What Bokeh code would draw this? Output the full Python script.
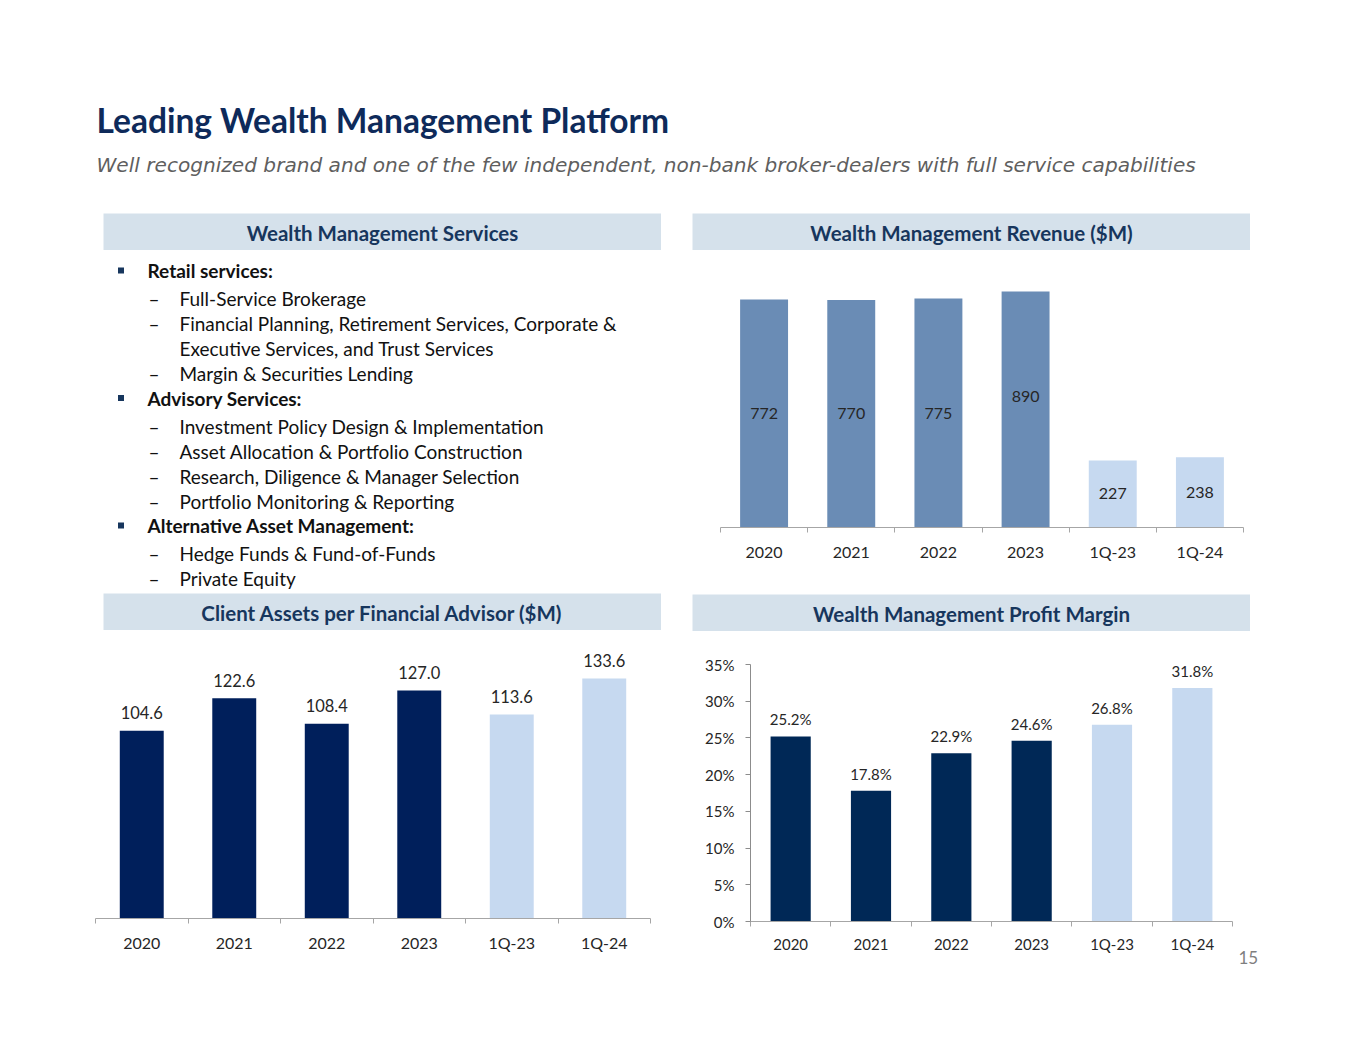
from bokeh.plotting import figure
from bokeh.layouts import row, column
from bokeh.models import Range1d, FixedTicker, NumeralTickFormatter, Spacer, ColumnDataSource
from bokeh.core.properties import value
from bokeh.embed import file_html
from bokeh.resources import INLINE

# ---------------- data ----------------
periods = ["2020", "2021", "2022", "2023", "1Q-23", "1Q-24"]
revenue_labels = [772, 770, 775, 890, 227, 238]
# bar heights as drawn in the reference (2023 bar is drawn shorter than its label)
revenue_bars = [772, 770, 775, 799, 227, 238]
assets_per_fa = [104.6, 122.6, 108.4, 127.0, 113.6, 133.6]
profit_margin = [0.252, 0.178, 0.229, 0.246, 0.268, 0.318]
margin_ticks = [0, 0.05, 0.10, 0.15, 0.20, 0.25, 0.30, 0.35]

title_text = "Leading Wealth Management Platform"
subtitle_text = ("Well recognized brand and one of the few independent, non-bank "
                 "broker-dealers with full service capabilities")
hdr_services = "Wealth Management Services"
hdr_revenue = "Wealth Management Revenue ($M)"
hdr_assets = "Client Assets per Financial Advisor ($M)"
hdr_margin = "Wealth Management Profit Margin"
page_number = "15"

services = [
    ("Retail services:", [["Full-Service Brokerage"],
                          ["Financial Planning, Retirement Services, Corporate &",
                           "Executive Services, and Trust Services"],
                          ["Margin & Securities Lending"]]),
    ("Advisory Services:", [["Investment Policy Design & Implementation"],
                            ["Asset Allocation & Portfolio Construction"],
                            ["Research, Diligence & Manager Selection"],
                            ["Portfolio Monitoring & Reporting"]]),
    ("Alternative Asset Management:", [["Hedge Funds & Fund-of-Funds"],
                                       ["Private Equity"]]),
]

# ---------------- styles ----------------
FONT = "Lato"
HDR_BG = "#D5E1EB"
HDR_TXT = "#17365D"
TITLE_C = "#0E2A5A"
SUB_C = "#5F5F5F"
REV_ANNUAL = "#6A8CB5"
LIGHT = "#C6D9F0"
ASSET_NAVY = "#001F5B"
MARGIN_NAVY = "#002856"
AXIS_C = "#A6A6A6"
LABEL_C = "#262626"
TEXT_C = "#111111"

n = len(periods)
centers = [i + 0.5 for i in range(n)]
is_q = [p.startswith("1Q") for p in periods]


def text_fig(w, h, bg="white"):
    p = figure(width=w, height=h, x_range=Range1d(0, w), y_range=Range1d(h, 0),
               output_backend="svg", toolbar_location=None, title=None,
               x_axis_location=None, y_axis_location=None, min_border=0)
    p.grid.visible = False
    p.outline_line_color = None
    p.background_fill_color = bg
    p.border_fill_color = bg
    return p


def header(text, w=558, h=37):
    p = text_fig(w, h, HDR_BG)
    p.text(x=[w / 2], y=[h / 2 + 0.5], text=[text], text_align="center", text_baseline="middle",
           text_font=value(FONT), text_font_style="bold", text_font_size="20.5px",
           text_color=HDR_TXT)
    return p


def style_xaxis(p, font_size, standoff):
    ax = p.xaxis[0]
    ax.ticker = FixedTicker(ticks=centers, minor_ticks=list(range(n + 1)))
    ax.major_label_overrides = {c: lab for c, lab in zip(centers, periods)}
    ax.major_tick_out = 0
    ax.major_tick_in = 0
    ax.minor_tick_out = 5
    ax.minor_tick_in = 0
    ax.minor_tick_line_color = AXIS_C
    ax.axis_line_color = AXIS_C
    ax.major_label_text_font = FONT
    ax.major_label_text_font_size = font_size
    ax.major_label_text_color = LABEL_C
    ax.major_label_standoff = standoff


def chart_fig(w, h, ymax, left, right, top, bottom, with_y=False):
    p = figure(width=w, height=h, x_range=Range1d(0, n), y_range=Range1d(0, ymax),
               output_backend="svg", toolbar_location=None, title=None,
               y_axis_location="left" if with_y else None,
               min_border_left=left, min_border_right=right,
               min_border_top=top, min_border_bottom=bottom)
    p.grid.visible = False
    p.outline_line_color = None
    return p


# ---------------- top title ----------------
top = text_fig(1349, 205)
top.text(x=[88], y=[111], text=[title_text], text_align="left", text_baseline="middle",
         text_font=value(FONT), text_font_style="bold", text_font_size="33.5px", text_color=TITLE_C)
top.text(x=[88], y=[156], text=[subtitle_text], text_align="left", text_baseline="middle",
         text_font=value("DejaVu Sans"), text_font_style="italic", text_font_size="20.1px",
         text_color=SUB_C)

# ---------------- services bullets ----------------
bul = text_fig(558, 343)
main_y, main_t = [], []
sub_y, sub_t, dash_y = [], [], []
y = 20.0
for gi, (head, items) in enumerate(services):
    main_y.append(y)
    main_t.append(head)
    y += 28
    for item in items:
        for li, line in enumerate(item):
            if li == 0:
                dash_y.append(y)
            sub_y.append(y)
            sub_t.append(line)
            y += 25
    y -= 0.5
bul.scatter(x=[17.5] * len(main_y), y=main_y, marker="square", size=6,
            fill_color=HDR_TXT, line_color=None)
bul.text(x=[44] * len(main_y), y=main_y, text=main_t, text_baseline="middle",
         text_font=value(FONT), text_font_style="bold", text_font_size="19px", text_color=TEXT_C)
bul.text(x=[45] * len(dash_y), y=dash_y, text=["\u2013"] * len(dash_y), text_baseline="middle",
         text_font=value(FONT), text_font_size="19px", text_color=TEXT_C)
bul.text(x=[76] * len(sub_y), y=sub_y, text=sub_t, text_baseline="middle",
         text_font=value(FONT), text_font_size="19px", text_color=TEXT_C)

# ---------------- revenue chart ----------------
rev_scale = 228 / 772.0  # px per $M
rev_frame_h = 267
rev = chart_fig(558, 343, rev_frame_h / rev_scale, left=28, right=7, top=10, bottom=66)
rev_src = ColumnDataSource(dict(
    x=centers, top=revenue_bars, lab=[str(v) for v in revenue_labels],
    ly=[v / 2 for v in revenue_labels],
    color=[LIGHT if q else REV_ANNUAL for q in is_q]))
rev.vbar(x="x", top="top", width=0.55, fill_color="color", line_color=None, source=rev_src)
rev.text(x="x", y="ly", text="lab", source=rev_src, text_align="center", text_baseline="middle",
         text_font=value(FONT), text_font_size="16px", text_color=LABEL_C)
style_xaxis(rev, "16px", 9)

# ---------------- client assets chart ----------------
as_scale = 1.796
as_frame_h = 288
assets = chart_fig(566, 348, as_frame_h / as_scale, left=0, right=11, top=0, bottom=60)
as_src = ColumnDataSource(dict(
    x=centers, top=assets_per_fa, lab=[f"{v:.1f}" for v in assets_per_fa],
    color=[LIGHT if q else ASSET_NAVY for q in is_q]))
assets.vbar(x="x", top="top", width=0.475, fill_color="color", line_color=None, source=as_src)
assets.text(x="x", y="top", text="lab", source=as_src, text_align="center", text_baseline="middle",
            y_offset=-18, text_font=value(FONT), text_font_size="16.5px", text_color=LABEL_C)
style_xaxis(assets, "16px", 9)

# ---------------- profit margin chart ----------------
mg_scale = 257 / 0.35
mg_frame_h = 290
margin = chart_fig(546, 340, mg_frame_h / mg_scale, left=58, right=6, top=0, bottom=50, with_y=True)
mg_src = ColumnDataSource(dict(
    x=centers, top=profit_margin, lab=[f"{v * 100:.1f}%" for v in profit_margin],
    color=[LIGHT if q else MARGIN_NAVY for q in is_q]))
margin.vbar(x="x", top="top", width=0.5, fill_color="color", line_color=None, source=mg_src)
margin.text(x="x", y="top", text="lab", source=mg_src, text_align="center", text_baseline="middle",
            y_offset=-17, text_font=value(FONT), text_font_size="15px", text_color=LABEL_C)
style_xaxis(margin, "15px", 8)
yax = margin.yaxis[0]
yax.ticker = FixedTicker(ticks=margin_ticks)
yax.formatter = NumeralTickFormatter(format="0%")
yax.bounds = (0, 0.35)
yax.major_tick_out = 5
yax.major_tick_in = 0
yax.minor_tick_out = 0
yax.minor_tick_in = 0
yax.major_tick_line_color = "#8C8C8C"
yax.axis_line_color = "#8C8C8C"
yax.major_label_text_font = FONT
yax.major_label_text_font_size = "15px"
yax.major_label_text_color = LABEL_C
yax.major_label_standoff = 11

# ---------------- page number ----------------
num = text_fig(30, 30)
num.text(x=[0], y=[15], text=[page_number], text_align="left", text_baseline="middle",
         text_font=value(FONT), text_font_size="17px", text_color="#7F7F7F")

# ---------------- layout ----------------
rowA = row(Spacer(width=95, height=380),
           column(row(header(hdr_services)), row(bul)),
           Spacer(width=31, height=380),
           column(row(header(hdr_revenue)), row(rev)))
rowB = row(Spacer(width=87, height=454),
           column(row(Spacer(width=8, height=37), header(hdr_assets)), row(assets)),
           Spacer(width=31, height=454),
           column(Spacer(width=558, height=1), row(header(hdr_margin)),
                  row(margin, column(Spacer(width=30, height=311), num))))
page = row(Spacer(width=8, height=8),
           column(Spacer(width=8, height=8), top, rowA, rowB))

open("out.html", "w").write(file_html(page, INLINE, title="Leading Wealth Management Platform"))
